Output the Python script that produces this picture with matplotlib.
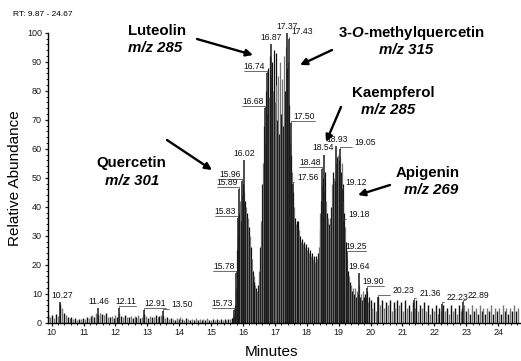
import matplotlib
matplotlib.use("Agg")
import matplotlib.pyplot as plt
import numpy as np
from matplotlib.ticker import MultipleLocator

plt.rcParams['font.family'] = ['Liberation Sans', 'DejaVu Sans']
plt.rcParams['mathtext.fontset'] = 'custom'
plt.rcParams['mathtext.rm'] = 'Liberation Sans:bold'
plt.rcParams['mathtext.it'] = 'Liberation Sans:italic:bold'

# ---------------- data ----------------
# baseline scans 9.90 - 15.66 min (step 0.06)
early_start, early_step = 9.90, 0.06
early_vals = [2.5, 1.8, 2.8, 1.5, 3.0, 2.2, 6.5, 5.0, 3.5, 2.5,
              2.0, 1.5, 1.8, 1.2, 1.5, 1.0, 1.4, 1.2, 1.6, 1.3,
              1.8, 1.5, 2.2, 2.8, 2.0, 3.2, 2.5, 3.5, 3.0, 2.6,
              3.2, 2.0, 1.8, 2.2, 1.5, 2.5, 2.0, 3.4, 2.4, 2.0,
              2.6, 2.0, 1.8, 2.4, 1.6, 2.2, 1.8, 2.6, 1.5, 2.0,
              3.0, 2.2, 1.6, 2.4, 2.0, 1.8, 2.5, 2.0, 2.2, 2.8,
              2.4, 1.5, 1.8, 1.2, 1.6, 1.4, 1.0, 1.5, 1.2, 1.8,
              1.3, 1.0, 1.5, 1.2, 0.8, 1.4, 1.1, 1.6, 1.0, 1.2,
              0.9, 1.3, 1.0, 1.5, 1.1, 0.8, 1.2, 1.0, 1.4, 1.1,
              1.2, 0.9, 1.3, 1.0, 1.4, 1.2, 1.6]

# dense flavonoid region 15.70 - 19.96 min (step 0.03)
main_start, main_step = 15.70, 0.03
main_vals = [2, 3, 6, 12, 25, 30, 38, 42, 35, 44,
             48, 45, 42, 40, 38, 36, 33, 30, 26, 22,
             18, 16, 14, 13, 12, 11, 13, 18, 26, 35,
             48, 55, 68, 62, 80, 72, 88, 78, 92, 85,
             90, 80, 94, 76, 93, 82, 70, 85, 65, 90,
             72, 84, 68, 92, 80, 95, 88, 90, 75, 62,
             58, 52, 45, 40, 36, 34, 35, 33, 35, 32,
             30, 28, 29, 27, 28, 26, 27, 25, 26, 24,
             25, 23, 24, 22, 23, 21, 23, 22, 24, 26,
             32, 38, 42, 47, 50, 45, 52, 42, 38, 36,
             34, 36, 40, 48, 52, 50, 49, 55, 57, 58,
             56, 57, 52, 55, 48, 42, 38, 33, 28, 22,
             18, 16, 14, 13, 11, 12, 10, 12, 9, 11,
             10, 13, 9, 10, 8, 11, 9, 8, 10, 9,
             11, 7, 9]

# late scans 20.00 - 24.62 min (step 0.06)
late_start, late_step = 20.00, 0.06
late_vals = [8, 5, 7, 4, 9, 6, 8, 5, 7, 6,
             8, 4, 7, 5, 8, 6, 7, 4, 8, 5,
             6, 4, 7, 5, 8, 4, 6, 5, 7, 4,
             6, 3, 5, 4, 6, 3, 5, 4, 6, 4,
             5, 3, 6, 4, 5, 3, 6, 4, 5, 6,
             4, 5, 3, 6, 4, 5, 3, 6, 4, 5,
             3, 5, 4, 6, 3, 5, 4, 5, 3, 6,
             4, 5, 3, 5, 4, 6, 4, 5]

# labelled peaks
peak_times = [10.27, 11.46, 12.11, 12.91, 13.50, 15.73, 15.78, 15.83, 15.89,
              15.96, 16.02, 16.68, 16.74, 16.87, 17.37, 17.43, 17.50, 17.56,
              18.48, 18.54, 18.93, 19.05, 19.12, 19.18, 19.25, 19.64, 19.90,
              20.23, 21.36, 22.23, 22.89]
peak_heights = [7, 5, 5, 4.5, 4, 4.5, 17, 36, 46,
                49, 56, 74, 86, 96, 100, 98, 69, 48,
                53, 58, 61, 60, 46, 35, 24, 17, 12,
                9, 8, 6.5, 7]
# horizontal label offsets (pixels)
label_dx = [2, 1, 7, 11, 19, -12, -12, -12, -12,
            -12, 1, -12, -12, 0, 0, 14, 13, 15,
            -12, -1, 1, 25, 14, 15, 9, 0, 6,
            26, 16, 16, 16]

compounds = ["Luteolin", "3-$\\mathit{O}$-methylquercetin", "Kaempferol",
             "Apigenin", "Quercetin"]
mz_labels = ["m/z 285", "m/z 315", "m/z 285", "m/z 269", "m/z 301"]

x_ticks = list(range(10, 25))
y_ticks = list(range(0, 101, 10))

# ---------------- figure ----------------
W, H = 521, 361
fig = plt.figure(figsize=(W / 100, H / 100), dpi=100)
ax = fig.add_axes([47.5 / W, (H - 322.7) / H, 472 / W, 290 / H])

def draw(start, step, vals, lw):
    t = start + step * np.arange(len(vals))
    cols = ['#101010' if i % 2 == 0 else '#777777' for i in range(len(vals))]
    ax.vlines(t, 0, vals, colors=cols, lw=lw)

draw(early_start, early_step, early_vals, 1.0)
draw(main_start, main_step, main_vals, 0.9)
draw(late_start, late_step, late_vals, 1.0)
ax.vlines(peak_times, 0, peak_heights, colors='#1a1a1a', lw=1.1)

for t, h, dx in zip(peak_times, peak_heights, label_dx):
    kw = {}
    if abs(dx) > 5:
        kw['arrowprops'] = dict(arrowstyle='-', lw=0.5, color='#333333',
                                shrinkA=0, shrinkB=0,
                                relpos=(1, 0) if dx > 0 else (0, 0),
                                connectionstyle='angle,angleA=0,angleB=90,rad=0')
    ax.annotate(f"{t:.2f}", xy=(t, h), xytext=(dx, 2), textcoords='offset pixels',
                ha='center', va='bottom', fontsize=6.2, color='#111111',
                annotation_clip=False, **kw)

ax.set_xlim(9.87, 24.67)
ax.set_ylim(0, 100)
ax.set_xticks(x_ticks)
ax.set_yticks(y_ticks)
ax.xaxis.set_minor_locator(MultipleLocator(0.2))
ax.yaxis.set_minor_locator(MultipleLocator(2))
ax.tick_params(which='major', length=2.5, width=0.9, labelsize=6.5, pad=1.5, colors='#1a1a1a')
ax.tick_params(which='minor', length=1.5, width=0.6)
for s in ['top', 'right']:
    ax.spines[s].set_visible(False)
for s in ['left', 'bottom']:
    ax.spines[s].set_linewidth(1.0)

def ft(x, y, s, **kw):
    fig.text(x / W, 1 - y / H, s, ha='center', va='center', **kw)

ft(43, 15, "RT: 9.87 - 24.67", fontsize=6)
ft(15, 178, "Relative Abundance", fontsize=11, rotation=90)
ft(272, 352, "Minutes", fontsize=11)

name_pos = [(157, 31), (411, 33), (393, 93), (428, 173), (131, 163)]
mz_pos = [(155, 48), (406, 50), (388, 110), (431, 190), (132, 181)]
for name, (x, y) in zip(compounds, name_pos):
    ft(x, y, name, fontsize=10.8, fontweight='bold')
for mz, (x, y) in zip(mz_labels, mz_pos):
    ft(x, y, mz, fontsize=10.8, fontweight='bold', fontstyle='italic')

arrows = [((197, 39), (253, 55)), ((332, 50), (300, 65)), ((341, 107), (326, 142)),
          ((390, 185), (358, 195)), ((167, 140), (212, 170))]
for (x0, y0), (x1, y1) in arrows:
    ax.annotate('', xy=(x1, H - y1), xycoords='figure pixels',
                xytext=(x0, H - y0), textcoords='figure pixels',
                arrowprops=dict(arrowstyle='-|>', color='black', lw=1.7,
                                mutation_scale=10, shrinkA=0, shrinkB=0),
                annotation_clip=False)

fig.savefig("out.png", dpi=100)
